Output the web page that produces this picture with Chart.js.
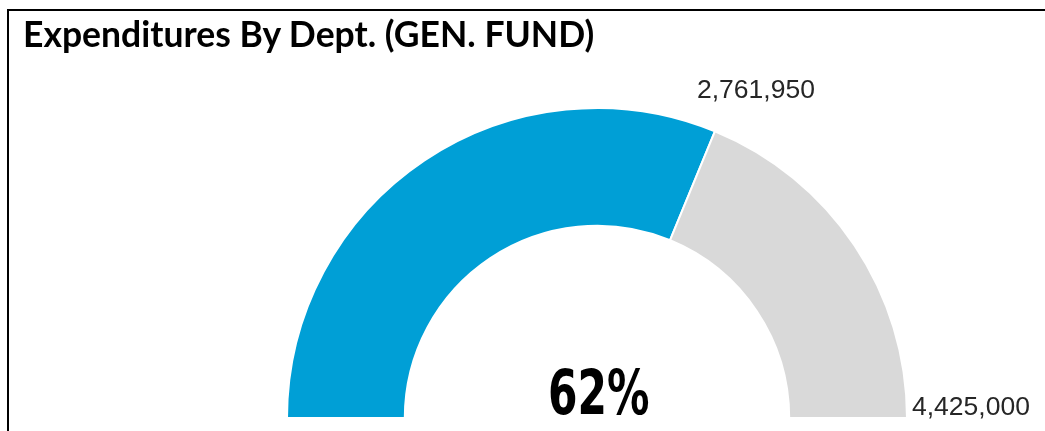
<!DOCTYPE html>
<html lang="en">
<head>
    <meta charset="UTF-8">
    <title>Expenditures By Dept. (GEN. FUND)</title>
    <script src="https://cdn.jsdelivr.net/npm/chart.js"></script>
    <style>
        html, body { margin: 0; padding: 0; background: #fff; }
        body { width: 1045px; height: 431px; overflow: hidden; position: relative; }
        .frame {
            position: absolute; left: 7px; top: 9px; width: 1100px; height: 500px;
            border-left: 2px solid #000; border-top: 2px solid #000;
            box-sizing: border-box;
        }
        .title {
            position: absolute; left: 23px; top: 12px;
            font-family: Lato, "Open Sans", sans-serif; font-weight: bold;
            font-size: 35.5px; line-height: 43px; color: #000; white-space: nowrap;
        }
        .val {
            position: absolute; font-family: "Liberation Sans", Arial, sans-serif;
            font-size: 26.5px; line-height: 26px; color: #262626; white-space: nowrap;
        }
        #pct {
            position: absolute; left: 548px; top: 362px;
            font-family: "DejaVu Sans Condensed", "DejaVu Sans", sans-serif; font-weight: bold;
            font-size: 62px; line-height: 62px; color: #000; white-space: nowrap;
            transform-origin: left top; transform: scaleX(0.76);
        }
        #chartBox { position: absolute; left: 0; top: 0; width: 1045px; height: 431px; }
    </style>
</head>
<body>
    <div class="frame"></div>
    <div id="chartBox"><canvas id="gauge"></canvas></div>
    <div class="title">Expenditures By Dept. (GEN. FUND)</div>
    <div class="val" id="spent" style="left: 697px; top: 76px;"></div>
    <div class="val" id="budget" style="left: 912px; top: 393px;"></div>
    <div id="pct"></div>

    <script>
        // gauge data
        const labels = ['Spent', 'Remaining'];
        const spent = 2761950;
        const budget = 4425000;
        const values = [spent, budget - spent];
        const colors = ['#009FD6', '#D9D9D9'];

        const fmt = n => n.toLocaleString('en-US');
        document.getElementById('spent').textContent = fmt(spent);
        document.getElementById('budget').textContent = fmt(budget);
        document.getElementById('pct').textContent = Math.round(spent / budget * 100) + '%';

        const ctx = document.getElementById('gauge').getContext('2d');
        new Chart(ctx, {
            type: 'doughnut',
            data: {
                labels: labels,
                datasets: [{
                    data: values,
                    backgroundColor: colors,
                    borderColor: '#ffffff',
                    borderWidth: 2,
                    hoverOffset: 0
                }]
            },
            options: {
                responsive: true,
                maintainAspectRatio: false,
                animation: false,
                rotation: -90,
                circumference: 180,
                cutout: '62%',
                layout: { padding: { left: 286, right: 137, top: 107, bottom: 12 } },
                plugins: {
                    legend: { display: false },
                    tooltip: { enabled: false }
                }
            }
        });
    </script>
</body>
</html>
